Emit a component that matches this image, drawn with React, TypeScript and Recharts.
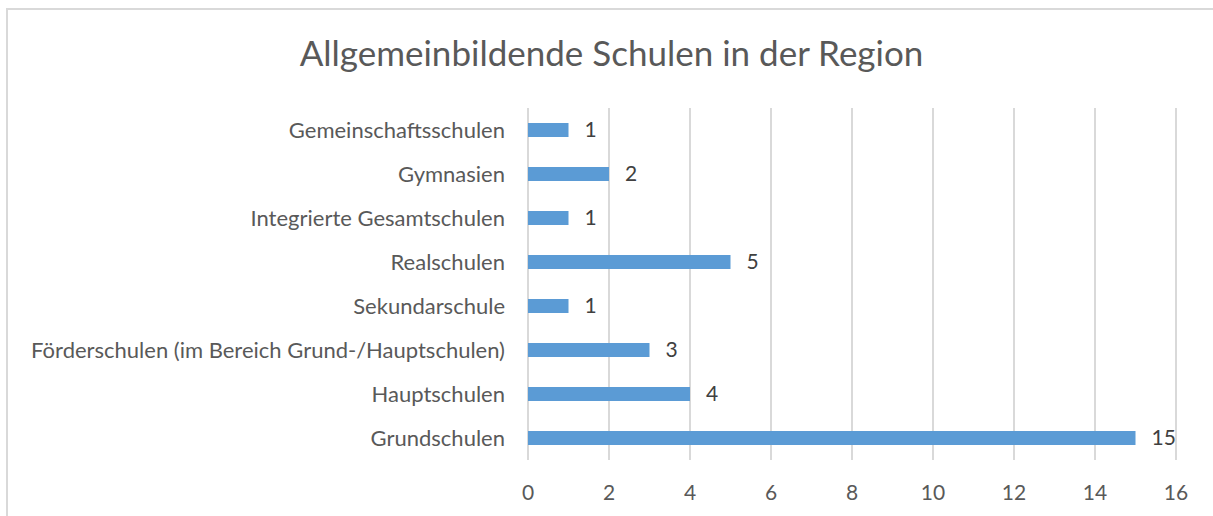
import { BarChart, Bar, XAxis, YAxis, CartesianGrid, LabelList } from "recharts";

const categories = [
  "Gemeinschaftsschulen",
  "Gymnasien",
  "Integrierte Gesamtschulen",
  "Realschulen",
  "Sekundarschule",
  "Förderschulen (im Bereich Grund-/Hauptschulen)",
  "Hauptschulen",
  "Grundschulen",
];
const schoolCounts = [1, 2, 1, 5, 1, 3, 4, 15];
const xTicks = [0, 2, 4, 6, 8, 10, 12, 14, 16];

const title = "Allgemeinbildende Schulen in der Region";

const data = categories.map((name, i) => ({ name, value: schoolCounts[i] }));

const font = "Lato, 'Open Sans', sans-serif";
const textColor = "#595959";

export default function App() {
  return (
    <div
      style={{
        position: "absolute",
        left: 0,
        top: 0,
        width: 1213,
        height: 516,
        overflow: "hidden",
        background: "#fff",
        fontFamily: font,
      }}
    >
      {/* chart border */}
      <div
        style={{
          position: "absolute",
          left: 6,
          top: 8,
          width: 1300,
          height: 600,
          border: "2px solid #d9d9d9",
          boxSizing: "border-box",
        }}
      />
      <div
        style={{
          position: "absolute",
          left: 0,
          width: 1223,
          top: 32,
          textAlign: "center",
          fontSize: 35,
          color: textColor,
          lineHeight: "40px",
        }}
      >
        {title}
      </div>
      <div style={{ position: "absolute", left: 0, top: 0 }}>
        <BarChart
          width={1213}
          height={516}
          data={data}
          layout="vertical"
          margin={{ top: 108, right: 37, bottom: 26, left: 0 }}
          barSize={14}
        >
          <CartesianGrid horizontal={false} stroke="#d9d9d9" strokeWidth={2} />
          <XAxis
            type="number"
            domain={[0, 16]}
            ticks={xTicks}
            axisLine={false}
            tickLine={false}
            height={30}
            tickMargin={19}
            tick={{ fontSize: 21, fill: textColor, fontFamily: font }}
          />
          <YAxis
            type="category"
            dataKey="name"
            width={528}
            axisLine={false}
            tickLine={false}
            tickMargin={17}
            interval={0}
            tick={{ fontSize: 22, fill: textColor, fontFamily: font }}
          />
          <Bar dataKey="value" fill="#5b9bd5" isAnimationActive={false}>
            <LabelList
              dataKey="value"
              position="right"
              offset={16}
              style={{ fontSize: 21, fill: "#404040", fontFamily: font }}
            />
          </Bar>
        </BarChart>
      </div>
    </div>
  );
}
